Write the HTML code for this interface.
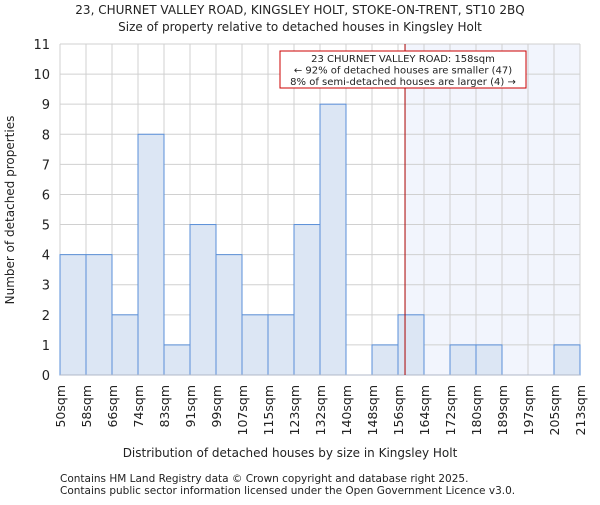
<!DOCTYPE html>
<html><head><meta charset="utf-8"><style>
body{margin:0;background:#fff;}
svg text{font-family:"DejaVu Sans","Liberation Sans",sans-serif;fill:#222;}
</style></head><body>
<svg id="chart" width="600" height="500" xmlns="http://www.w3.org/2000/svg">
<text x="300" y="14" font-size="12" text-anchor="middle">23, CHURNET VALLEY ROAD, KINGSLEY HOLT, STOKE-ON-TRENT, ST10 2BQ</text>
<text x="300" y="31" font-size="12" text-anchor="middle">Size of property relative to detached houses in Kingsley Holt</text>
<g id="plot"></g>
<text x="290" y="457" font-size="12" text-anchor="middle">Distribution of detached houses by size in Kingsley Holt</text>
<text transform="translate(14,210) rotate(-90)" font-size="12" text-anchor="middle">Number of detached properties</text>
<text x="60" y="482" font-size="10.5">Contains HM Land Registry data © Crown copyright and database right 2025.</text>
<text x="60" y="494" font-size="10.5">Contains public sector information licensed under the Open Government Licence v3.0.</text>
</svg>
<script>
const binLabels=["50sqm","58sqm","66sqm","74sqm","83sqm","91sqm","99sqm","107sqm","115sqm","123sqm","132sqm","140sqm","148sqm","156sqm","164sqm","172sqm","180sqm","189sqm","197sqm","205sqm","213sqm"];
const counts=[4,4,2,8,1,5,4,2,2,5,9,0,1,2,0,1,1,0,0,1];
const yTicks=[0,1,2,3,4,5,6,7,8,9,10,11];
const markerBin=13.27;
const NS="http://www.w3.org/2000/svg";
const g=document.getElementById('plot');
const L=60,R=580,T=44,B=375,yMax=11;
const xs=i=>L+(R-L)*i/counts.length;
const ys=v=>B-(B-T)*v/yMax;
function mk(t,a){const e=document.createElementNS(NS,t);for(const k in a)e.setAttribute(k,a[k]);g.appendChild(e);return e;}
const mx=xs(markerBin);
let e=mk('rect',{x:mx,y:T,width:R-mx,height:B-T,fill:'#f2f5fd'});


yTicks.forEach(v=>{
 e=mk('line',{x1:L,x2:R,y1:ys(v),y2:ys(v),stroke:'#d0d0d0'});
 
 
 e=mk('text',{x:L-10,y:ys(v)+5,'font-size':13,'text-anchor':'end'});e.textContent=v;
 
 
});
binLabels.forEach((s,i)=>{
 e=mk('line',{x1:xs(i),x2:xs(i),y1:T,y2:B,stroke:'#d0d0d0'});
 
 
 e=mk('text',{transform:`translate(${xs(i)+5},385) rotate(-90)`,'font-size':12.5,'text-anchor':'end'});e.textContent=s;
 
 
});
counts.forEach((c,i)=>{
 if(c<=0)return;
 e=mk('rect',{x:xs(i),y:ys(c),width:xs(i+1)-xs(i),height:B-ys(c),fill:'#dce6f4',stroke:'#5a8fd8','stroke-width':1});
 
 
});
e=mk('line',{x1:L,x2:R,y1:B,y2:B,stroke:'#b0b8c8'});


e=mk('line',{x1:mx,x2:mx,y1:T,y2:B,stroke:'#aa0000','stroke-width':1});


e=mk('rect',{x:280,y:51,width:246,height:37,fill:'#fff',stroke:'#cc0000','stroke-width':1});


["23 CHURNET VALLEY ROAD: 158sqm","← 92% of detached houses are smaller (47)","8% of semi-detached houses are larger (4) →"].forEach((s,i)=>{
 e=mk('text',{x:403,y:62+i*11.5,'font-size':10,'text-anchor':'middle'});e.textContent=s;
 
 
});
</script>
</body></html>
